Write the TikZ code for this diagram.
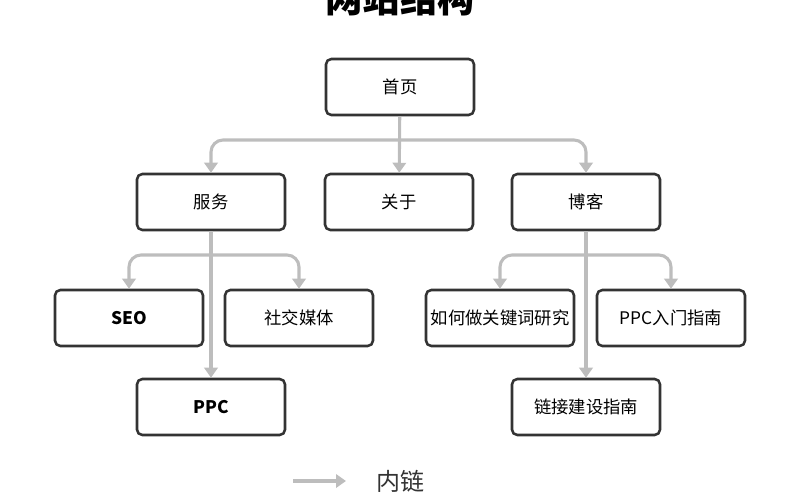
\documentclass[tikz,border=0pt]{standalone}
\usepackage{fontspec}
\setmainfont{Noto Sans CJK SC}
\usepackage{tikz}
\usetikzlibrary{arrows.meta}
\usetikzlibrary{positioning}

\definecolor{linkgray}{HTML}{BDBDBD}
\definecolor{boxline}{HTML}{333333}

\tikzset{
  page/.style={draw=boxline,line width=1.9pt,rounded corners=4pt,fill=white,
    minimum width=111pt,minimum height=42pt,inner sep=1pt,text=black,
    font=\fontsize{13}{15}\selectfont},
  link/.style={draw=linkgray,line width=2.3pt,rounded corners=9pt,
    -{Triangle[width=10pt,length=7.5pt]},linkgray}
}

\begin{document}
\begin{tikzpicture}[x=0.75pt,y=-0.75pt]
      \useasboundingbox (0,0) rectangle (800,500);
      \node[font=\fontsize{28}{30}\selectfont\bfseries] (title) at (400,-2) {网站结构};
      \begin{scope}[every node/.style={page}]
        \node (home) at (400,87) {首页};
        \node (serv) at (211,202) {服务};
        \node (about) at (399,202) {关于};
        \node (blog) at (586,202) {博客};
        \node (seo) at (129,318) {\bfseries SEO};
        \node (social) at (299,318) {社交媒体};
        \node (ppc) at (211,407) {\bfseries PPC};
        \node (kw) at (500,318) {如何做关键词研究};
        \node (ppcguide) at (671,318) {PPC入门指南};
        \node (linkguide) at (586,407) {链接建设指南};
      \end{scope}
      \coordinate (hsplit) at (400,140);
      \coordinate (ssplit) at (211,255);
      \coordinate (bsplit) at (586,255);
      \begin{scope}[on background layer/.style={}]
        \draw[link] (home) -- (about);
        \draw[link] (hsplit) -| (serv.north);
        \draw[link] (hsplit) -| (blog.north);
        \draw[link] (serv) -- (ppc);
        \draw[link] (ssplit) -| (seo.north);
        \draw[link] (ssplit) -| (social.north);
        \draw[link] (blog) -- (linkguide);
        \draw[link] (bsplit) -| (kw.north);
        \draw[link] (bsplit) -| (ppcguide.north);
      \end{scope}
      % legend
      \node[font=\fontsize{18}{20}\selectfont,text=boxline] (legtext) at (400,481) {内链};
      \coordinate (legstart) at (293,481);
      \coordinate (legend) at (346,481);
      \draw[link] (legstart) -- (legend);
\end{tikzpicture}
\end{document}
